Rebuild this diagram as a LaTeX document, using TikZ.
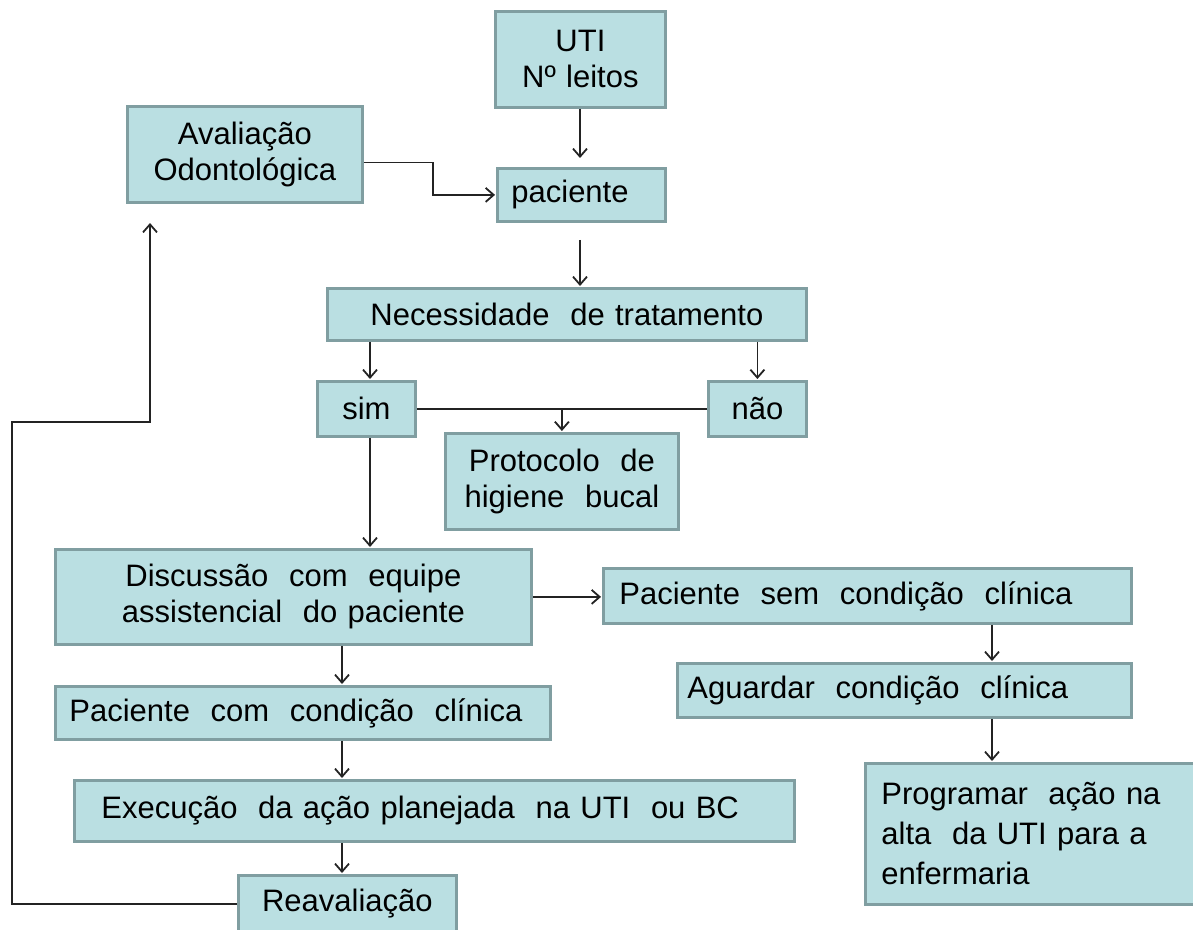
\documentclass[tikz,border=0pt]{standalone}
\usepackage{fontspec}
\setmainfont{Liberation Sans}
\usetikzlibrary{arrows.meta}
\definecolor{boxfill}{RGB}{186,223,226}
\definecolor{boxline}{RGB}{128,158,161}
\definecolor{arrc}{RGB}{35,35,35}
\tikzset{
 box/.style={draw=boxline, line width=2.8pt, fill=boxfill, anchor=north west, inner ysep=0pt, font=\fontsize{31}{36}\selectfont, text=black},
 arr/.style={draw=arrc, line width=1.8pt, -{Straight Barb[length=8pt,width=14pt]}, shorten >=1pt},
 ln/.style={draw=arrc, line width=1.8pt},
}
\begin{document}
\begin{tikzpicture}[x=1pt,y=-1pt]
\useasboundingbox (0,0) rectangle (1193,929);
\node[box, minimum height=96, text width=150, inner xsep=10, align=center] (uti) at (494,10) {UTI\\Nº leitos};
\node[box, minimum height=53, text width=140, inner xsep=14, align=left] (pac) at (496,167) {paciente};
\node[box, minimum height=96, text width=215, inner xsep=10, align=center] (aval) at (126,105) {Avaliação\\Odontológica};
\node[box, minimum height=52, text width=459, inner xsep=10, align=center] (nec) at (326,287) {Necessidade\ \ de tratamento};
\node[box, minimum height=55, text width=78, inner xsep=10, align=center] (sim) at (316,380) {sim};
\node[box, minimum height=55, text width=78, inner xsep=10, align=center] (nao) at (707,380) {não};
\node[box, minimum height=96, text width=213, inner xsep=10, align=center] (prot) at (444,432) {Protocolo\ \ de\\higiene\ \ bucal};
\node[box, minimum height=95, text width=456, inner xsep=10, align=center] (disc) at (54,548) {Discussão\ \ com\ \ equipe\\assistencial\ \ do paciente};
\node[box, minimum height=55, text width=496, inner xsep=16, align=left] (psem) at (602,567) {Paciente\ \ sem\ \ condição\ \ clínica};
\node[box, minimum height=54, text width=434, inner xsep=10, align=left] (agu) at (676,662) {Aguardar\ \ condição\ \ clínica};
\node[box, minimum height=53, text width=467, inner xsep=14, align=left] (pcom) at (54,685) {Paciente\ \ com\ \ condição\ \ clínica};
\node[box, minimum height=61, text width=666, inner xsep=27, align=left] (exec) at (73,779) {Execução\ \ da ação planejada\ \ na UTI\ \ ou BC};
\node[box, minimum height=141, text width=300, inner xsep=16, align=left, font=\fontsize{31}{40}\selectfont] (prog) at (864,762) {Programar\ \ ação na\\alta\ \ da UTI para a\\enfermaria};
\node[box, minimum height=57, text width=198, inner xsep=10, align=center] (reav) at (237,874) {Reavaliação};
\coordinate (cr) at (992,0);
\coordinate (cl) at (342,0);
\coordinate (l1) at (12,422);
\coordinate (l2) at (150,422);
\coordinate (l3) at (150,222);
\coordinate (cn) at (370,0);
\coordinate (cu) at (580,0);
\draw[arr, shorten >=9pt] (uti.south -| cu) -- (pac.north -| cu);
\draw[arr] ([yshift=-8pt]aval.east) -- ++(69,0) |- (pac.west);
\draw[arr, shorten <=17pt] (pac.south -| cu) -- (nec.north -| cu);
\draw[arr] (nec.south -| cn) -- (sim.north -| cn);
\draw[arr] (nec.south -| nao.north) -- (nao.north);
\draw[ln] (sim.east) -- (nao.west);
\draw[arr] (sim.east -| prot.north) -- (prot.north);
\draw[arr] (sim.south -| cn) -- (disc.north -| cn);
\draw[arr] (disc.east) -- (disc.east -| psem.west);
\draw[arr] (psem.south -| cr) -- (agu.north -| cr);
\draw[arr] (agu.south -| cr) -- (prog.north -| cr);
\draw[arr] (disc.south -| cl) -- (pcom.north -| cl);
\draw[arr] (pcom.south -| cl) -- (exec.north -| cl);
\draw[arr] (exec.south -| cl) -- (reav.north -| cl);
\draw[arr] (reav.west) -| (l1) -- (l2) -- (l3);
\end{tikzpicture}
\end{document}
